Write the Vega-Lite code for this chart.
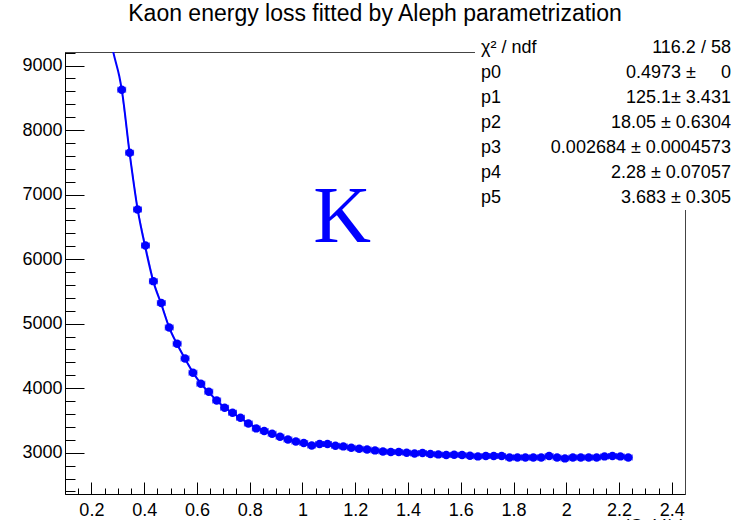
{
  "$schema": "https://vega.github.io/schema/vega-lite/v6.json",
  "width": 620,
  "height": 442,
  "autosize": {"type": "none"},
  "padding": {"left": 65, "top": 52, "right": 53, "bottom": 26},
  "background": "white",
  "title": {
    "text": "Kaon energy loss fitted by Aleph parametrization",
    "anchor": "middle",
    "frame": "group",
    "font": "Liberation Sans",
    "fontSize": 23,
    "fontWeight": "normal",
    "color": "black",
    "baseline": "alphabetic",
    "offset": -11
  },
  "config": {
    "view": {"stroke": "#444444", "strokeWidth": 1},
    "axis": {
      "grid": false,
      "labelFont": "Liberation Sans",
      "labelFontSize": 18,
      "labelColor": "black",
      "tickColor": "black",
      "tickWidth": 1,
      "domainColor": "black",
      "domainWidth": 1,
      "titleFont": "Liberation Sans",
      "titleFontSize": 18,
      "titleFontWeight": "normal",
      "titleColor": "black",
      "labelOverlap": false,
      "labelFlush": false
    }
  },
  "datasets": {
    "kaon": [
      {"p": 0.315, "dedx": 8624, "dp": 0.015},
      {"p": 0.345, "dedx": 7648, "dp": 0.015},
      {"p": 0.375, "dedx": 6770, "dp": 0.015},
      {"p": 0.405, "dedx": 6210, "dp": 0.015},
      {"p": 0.435, "dedx": 5659, "dp": 0.015},
      {"p": 0.465, "dedx": 5320, "dp": 0.015},
      {"p": 0.495, "dedx": 4941, "dp": 0.015},
      {"p": 0.525, "dedx": 4689, "dp": 0.015},
      {"p": 0.555, "dedx": 4461, "dp": 0.015},
      {"p": 0.585, "dedx": 4240, "dp": 0.015},
      {"p": 0.615, "dedx": 4069, "dp": 0.015},
      {"p": 0.645, "dedx": 3945, "dp": 0.015},
      {"p": 0.675, "dedx": 3810, "dp": 0.015},
      {"p": 0.705, "dedx": 3697, "dp": 0.015},
      {"p": 0.735, "dedx": 3620, "dp": 0.015},
      {"p": 0.765, "dedx": 3542, "dp": 0.015},
      {"p": 0.795, "dedx": 3454, "dp": 0.015},
      {"p": 0.825, "dedx": 3377, "dp": 0.015},
      {"p": 0.855, "dedx": 3335, "dp": 0.015},
      {"p": 0.885, "dedx": 3294, "dp": 0.015},
      {"p": 0.915, "dedx": 3248, "dp": 0.015},
      {"p": 0.945, "dedx": 3206, "dp": 0.015},
      {"p": 0.975, "dedx": 3175, "dp": 0.015},
      {"p": 1.005, "dedx": 3149, "dp": 0.015},
      {"p": 1.035, "dedx": 3113, "dp": 0.015},
      {"p": 1.065, "dedx": 3134, "dp": 0.015},
      {"p": 1.095, "dedx": 3134, "dp": 0.015},
      {"p": 1.125, "dedx": 3108, "dp": 0.015},
      {"p": 1.155, "dedx": 3098, "dp": 0.015},
      {"p": 1.185, "dedx": 3077, "dp": 0.015},
      {"p": 1.215, "dedx": 3062, "dp": 0.015},
      {"p": 1.245, "dedx": 3051, "dp": 0.015},
      {"p": 1.275, "dedx": 3036, "dp": 0.015},
      {"p": 1.305, "dedx": 3020, "dp": 0.015},
      {"p": 1.335, "dedx": 3010, "dp": 0.015},
      {"p": 1.365, "dedx": 3010, "dp": 0.015},
      {"p": 1.395, "dedx": 3000, "dp": 0.015},
      {"p": 1.425, "dedx": 2989, "dp": 0.015},
      {"p": 1.455, "dedx": 2994, "dp": 0.015},
      {"p": 1.485, "dedx": 2979, "dp": 0.015},
      {"p": 1.515, "dedx": 2974, "dp": 0.015},
      {"p": 1.545, "dedx": 2963, "dp": 0.015},
      {"p": 1.575, "dedx": 2969, "dp": 0.015},
      {"p": 1.605, "dedx": 2963, "dp": 0.015},
      {"p": 1.635, "dedx": 2953, "dp": 0.015},
      {"p": 1.665, "dedx": 2943, "dp": 0.015},
      {"p": 1.695, "dedx": 2948, "dp": 0.015},
      {"p": 1.725, "dedx": 2948, "dp": 0.015},
      {"p": 1.755, "dedx": 2948, "dp": 0.015},
      {"p": 1.785, "dedx": 2927, "dp": 0.015},
      {"p": 1.815, "dedx": 2927, "dp": 0.015},
      {"p": 1.845, "dedx": 2927, "dp": 0.015},
      {"p": 1.875, "dedx": 2927, "dp": 0.015},
      {"p": 1.905, "dedx": 2927, "dp": 0.015},
      {"p": 1.935, "dedx": 2948, "dp": 0.015},
      {"p": 1.965, "dedx": 2927, "dp": 0.015},
      {"p": 1.995, "dedx": 2912, "dp": 0.015},
      {"p": 2.025, "dedx": 2927, "dp": 0.015},
      {"p": 2.055, "dedx": 2927, "dp": 0.015},
      {"p": 2.085, "dedx": 2927, "dp": 0.015},
      {"p": 2.115, "dedx": 2927, "dp": 0.015},
      {"p": 2.145, "dedx": 2943, "dp": 0.015},
      {"p": 2.175, "dedx": 2948, "dp": 0.015},
      {"p": 2.205, "dedx": 2943, "dp": 0.015},
      {"p": 2.235, "dedx": 2927, "dp": 0.015}
    ],
    "fit": [
      {"p": 0.27, "dedx": 9480},
      {"p": 0.283, "dedx": 9208},
      {"p": 0.306, "dedx": 8830},
      {"p": 0.315, "dedx": 8630},
      {"p": 0.345, "dedx": 7640},
      {"p": 0.375, "dedx": 6780},
      {"p": 0.405, "dedx": 6170},
      {"p": 0.435, "dedx": 5650},
      {"p": 0.465, "dedx": 5300},
      {"p": 0.495, "dedx": 4940},
      {"p": 0.525, "dedx": 4680},
      {"p": 0.555, "dedx": 4455},
      {"p": 0.585, "dedx": 4245},
      {"p": 0.615, "dedx": 4070},
      {"p": 0.645, "dedx": 3935},
      {"p": 0.675, "dedx": 3810},
      {"p": 0.705, "dedx": 3700},
      {"p": 0.735, "dedx": 3615},
      {"p": 0.765, "dedx": 3535},
      {"p": 0.795, "dedx": 3455},
      {"p": 0.855, "dedx": 3335},
      {"p": 0.915, "dedx": 3245},
      {"p": 0.975, "dedx": 3175},
      {"p": 1.035, "dedx": 3125},
      {"p": 1.095, "dedx": 3110},
      {"p": 1.155, "dedx": 3090},
      {"p": 1.245, "dedx": 3050},
      {"p": 1.365, "dedx": 3005},
      {"p": 1.485, "dedx": 2980},
      {"p": 1.605, "dedx": 2962},
      {"p": 1.755, "dedx": 2945},
      {"p": 1.905, "dedx": 2932},
      {"p": 2.055, "dedx": 2928},
      {"p": 2.235, "dedx": 2930}
    ],
    "stats": [{"box": "fit results"}]
  },
  "layer": [
    {
      "data": {"name": "fit"},
      "mark": {"type": "line", "color": "#0000ff", "strokeWidth": 2, "interpolate": "monotone", "clip": true},
      "encoding": {
        "x": {
          "field": "p",
          "type": "quantitative",
          "scale": {"domain": [0.1, 2.45], "nice": false, "zero": false},
          "axis": {
            "orient": "bottom",
            "values": [0.2, 0.4, 0.6, 0.8, 1, 1.2, 1.4, 1.6, 1.8, 2, 2.2, 2.4],
            "format": "~g",
            "tickSize": -12,
            "labelPadding": 33,
            "labelBaseline": "alphabetic",
            "title": "p (GeV/c)",
            "titleAnchor": "end",
            "titleBaseline": "top",
            "titleY": 23
          }
        },
        "y": {
          "field": "dedx",
          "type": "quantitative",
          "scale": {"domain": [2360, 9210], "nice": false, "zero": false},
          "axis": {
            "orient": "left",
            "values": [3000, 4000, 5000, 6000, 7000, 8000, 9000],
            "format": "d",
            "tickSize": -19,
            "labelPadding": 22,
            "labelBaseline": "middle",
            "title": null
          }
        }
      }
    },
    {
      "data": {"name": "kaon"},
      "mark": {"type": "line", "color": "#0000ff", "strokeWidth": 1.2, "opacity": 0.5, "clip": true},
      "encoding": {
        "x": {
          "field": "p",
          "type": "quantitative",
          "axis": {
            "orient": "bottom",
            "values": [0.15, 0.25, 0.3, 0.35, 0.45, 0.5, 0.55, 0.65, 0.7, 0.75, 0.85, 0.9, 0.95, 1.05, 1.1, 1.15, 1.25, 1.3, 1.35, 1.45, 1.5, 1.55, 1.65, 1.7, 1.75, 1.85, 1.9, 1.95, 2.05, 2.1, 2.15, 2.25, 2.3, 2.35],
            "labels": false,
            "domain": false,
            "tickSize": -6,
            "title": null
          }
        },
        "y": {
          "field": "dedx",
          "type": "quantitative",
          "axis": {
            "orient": "left",
            "values": [2400, 2600, 2800, 3200, 3400, 3600, 3800, 4200, 4400, 4600, 4800, 5200, 5400, 5600, 5800, 6200, 6400, 6600, 6800, 7200, 7400, 7600, 7800, 8200, 8400, 8600, 8800, 9200],
            "labels": false,
            "domain": false,
            "tickSize": -10,
            "title": null
          }
        }
      }
    },
    {
      "data": {"name": "kaon"},
      "mark": {"type": "errorbar", "color": "#0000ff", "ticks": {"size": 6}, "clip": true},
      "encoding": {
        "x": {"field": "p", "type": "quantitative", "axis": null},
        "xError": {"field": "dp"},
        "y": {"field": "dedx", "type": "quantitative", "axis": null}
      }
    },
    {
      "data": {"name": "kaon"},
      "mark": {"type": "point", "filled": true, "shape": "circle", "size": 72, "color": "#0000ff", "opacity": 1, "clip": true},
      "encoding": {
        "x": {"field": "p", "type": "quantitative", "axis": null},
        "y": {"field": "dedx", "type": "quantitative", "axis": null}
      }
    },
    {
      "data": {"name": "stats"},
      "mark": {"type": "rect", "fill": "white", "clip": false},
      "encoding": {
        "x": {"datum": 1.654, "type": "quantitative", "axis": null},
        "x2": {"datum": 2.75},
        "y": {"datum": 6761, "type": "quantitative", "axis": null},
        "y2": {"datum": 9504}
      }
    },
    {
      "data": {"name": "stats"},
      "mark": {
        "type": "text",
        "align": "left",
        "baseline": "alphabetic",
        "font": "Liberation Sans",
        "fontSize": 18,
        "lineHeight": 25,
        "color": "black",
        "clip": false,
        "text": ["χ² / ndf", "p0", "p1", "p2", "p3", "p4", "p5"]
      },
      "encoding": {
        "x": {"datum": 1.677, "type": "quantitative", "axis": null},
        "y": {"datum": 9187, "type": "quantitative", "axis": null}
      }
    },
    {
      "data": {"name": "stats"},
      "mark": {
        "type": "text",
        "align": "right",
        "baseline": "alphabetic",
        "font": "Liberation Sans",
        "fontSize": 18,
        "lineHeight": 25,
        "color": "black",
        "clip": false,
        "text": ["116.2 / 58", "0.4973 ±\u00a0\u00a0\u00a0\u00a0\u00a00", "125.1± 3.431", "18.05 ± 0.6304", "0.002684 ± 0.0004573", "2.28 ± 0.07057", "3.683 ± 0.305"]
      },
      "encoding": {
        "x": {"datum": 2.624, "type": "quantitative", "axis": null},
        "y": {"datum": 9187, "type": "quantitative", "axis": null}
      }
    },
    {
      "data": {"name": "stats"},
      "mark": {
        "type": "text",
        "text": "K",
        "font": "Liberation Serif",
        "fontSize": 80,
        "color": "#0000ff",
        "align": "center",
        "baseline": "alphabetic",
        "clip": false
      },
      "encoding": {
        "x": {"datum": 1.15, "type": "quantitative", "axis": null},
        "y": {"datum": 6265, "type": "quantitative", "axis": null}
      }
    }
  ],
  "resolve": {"axis": {"x": "independent", "y": "independent"}}
}
